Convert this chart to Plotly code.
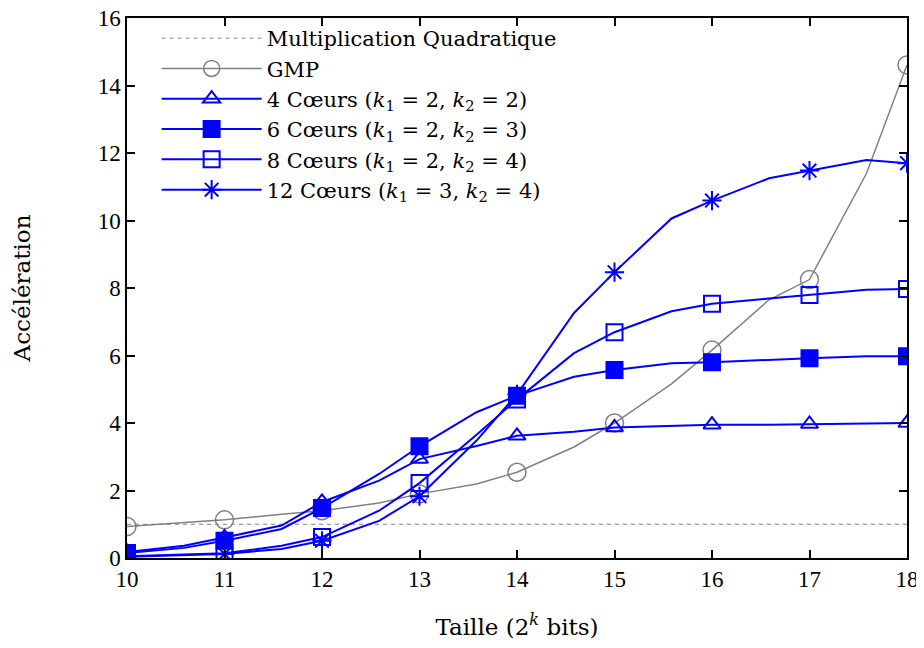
import plotly.graph_objects as go

# taille en log2 des bits (points intermediaires a 1.5 * 2^k)
taille = [10, 10.585, 11, 11.585, 12, 12.585, 13, 13.585, 14, 14.585,
          15, 15.585, 16, 16.585, 17, 17.585, 18]

gmp = [0.93, 1.05, 1.13, 1.30, 1.40, 1.63, 1.90, 2.19, 2.54, 3.29,
       4.00, 5.16, 6.16, 7.65, 8.25, 11.40, 14.61]
coeurs4 = [0.18, 0.36, 0.61, 0.96, 1.66, 2.29, 2.93, 3.32, 3.62, 3.74,
           3.87, 3.92, 3.95, 3.95, 3.97, 4.00, 4.00]
coeurs6 = [0.15, 0.30, 0.51, 0.86, 1.48, 2.49, 3.31, 4.32, 4.81, 5.37,
           5.57, 5.77, 5.80, 5.88, 5.92, 5.98, 5.98]
coeurs8 = [0.05, 0.10, 0.14, 0.36, 0.62, 1.40, 2.22, 3.65, 4.70, 6.07,
           6.69, 7.31, 7.53, 7.69, 7.79, 7.95, 7.97]
coeurs12 = [0.04, 0.08, 0.12, 0.27, 0.51, 1.10, 1.83, 3.48, 4.85, 7.26,
            8.47, 10.06, 10.59, 11.25, 11.48, 11.79, 11.70]

quad_x = [10, 18]
quad_y = [1, 1]

noms = [
    "GMP",
    "4 Cœurs (<i>k</i><sub>1</sub> = 2, <i>k</i><sub>2</sub> = 2)",
    "6 Cœurs (<i>k</i><sub>1</sub> = 2, <i>k</i><sub>2</sub> = 3)",
    "8 Cœurs (<i>k</i><sub>1</sub> = 2, <i>k</i><sub>2</sub> = 4)",
    "12 Cœurs (<i>k</i><sub>1</sub> = 3, <i>k</i><sub>2</sub> = 4)",
]

BLEU = "#0000ff"
GRIS = "#808080"
FONT = "DejaVu Serif"
FONT_TICK = "Liberation Serif"
FS = 23
FS_LEG = 21

series = [
    (noms[0], gmp, GRIS, "circle-open", 18, 1.5),
    (noms[1], coeurs4, BLEU, "triangle-up-open", 15, 2),
    (noms[2], coeurs6, BLEU, "square", 16, 2),
    (noms[3], coeurs8, BLEU, "square-open", 16, 2),
    (noms[4], coeurs12, BLEU, "asterisk-open", 16, 2),
]

fig = go.Figure()

fig.add_trace(go.Scatter(x=quad_x, y=quad_y, mode="lines",
                         name="Multiplication Quadratique",
                         line=dict(color=GRIS, width=1, dash="4px,4px")))

for nom, ys, col, sym, sz, lw in series:
    # ligne complete
    fig.add_trace(go.Scatter(x=taille, y=ys, mode="lines", showlegend=False,
                             line=dict(color=col, width=lw)))
    # symboles uniquement aux tailles entieres
    xm = [x for x in taille if float(x).is_integer()]
    ym = [y for x, y in zip(taille, ys) if float(x).is_integer()]
    fig.add_trace(go.Scatter(x=xm, y=ym, mode="markers", showlegend=False,
                             marker=dict(symbol=sym, size=sz, color=col,
                                         line=dict(color=col, width=lw))))
    # entree de legende
    fig.add_trace(go.Scatter(x=[None], y=[None], mode="lines+markers", name=nom,
                             line=dict(color=col, width=lw),
                             marker=dict(symbol=sym, size=sz, color=col,
                                         line=dict(color=col, width=lw))))

axe = dict(showline=True, linecolor="black", linewidth=1.5, mirror="ticks",
           ticks="inside", ticklen=8, tickwidth=1.5, tickcolor="black",
           showgrid=False, zeroline=False, automargin=False,
           ticklabeloverflow="allow",
           tickfont=dict(family=FONT_TICK, size=FS, color="black"))

fig.update_xaxes(axe, range=[10, 18], dtick=1,
                 title=dict(text="Taille (2<sup><i>k</i></sup> bits)",
                            font=dict(family=FONT, size=FS, color="black"),
                            standoff=38))
fig.update_yaxes(axe, range=[0, 16], dtick=2,
                 title=dict(text="Accélération",
                            font=dict(family=FONT, size=FS, color="black"),
                            standoff=61))

# la page ajoute 8 px de marge autour du graphique
fig.update_layout(
    width=916, height=632,
    margin=dict(l=119, r=17, t=10, b=82),
    plot_bgcolor="white", paper_bgcolor="white",
    font=dict(family=FONT, size=FS, color="black"),
    legend=dict(x=0.038, y=1.0, xanchor="left", yanchor="top",
                bgcolor="rgba(0,0,0,0)", itemwidth=100, tracegroupgap=0,
                font=dict(family=FONT, size=FS_LEG, color="black")),
)

fig.write_html("out.html")
